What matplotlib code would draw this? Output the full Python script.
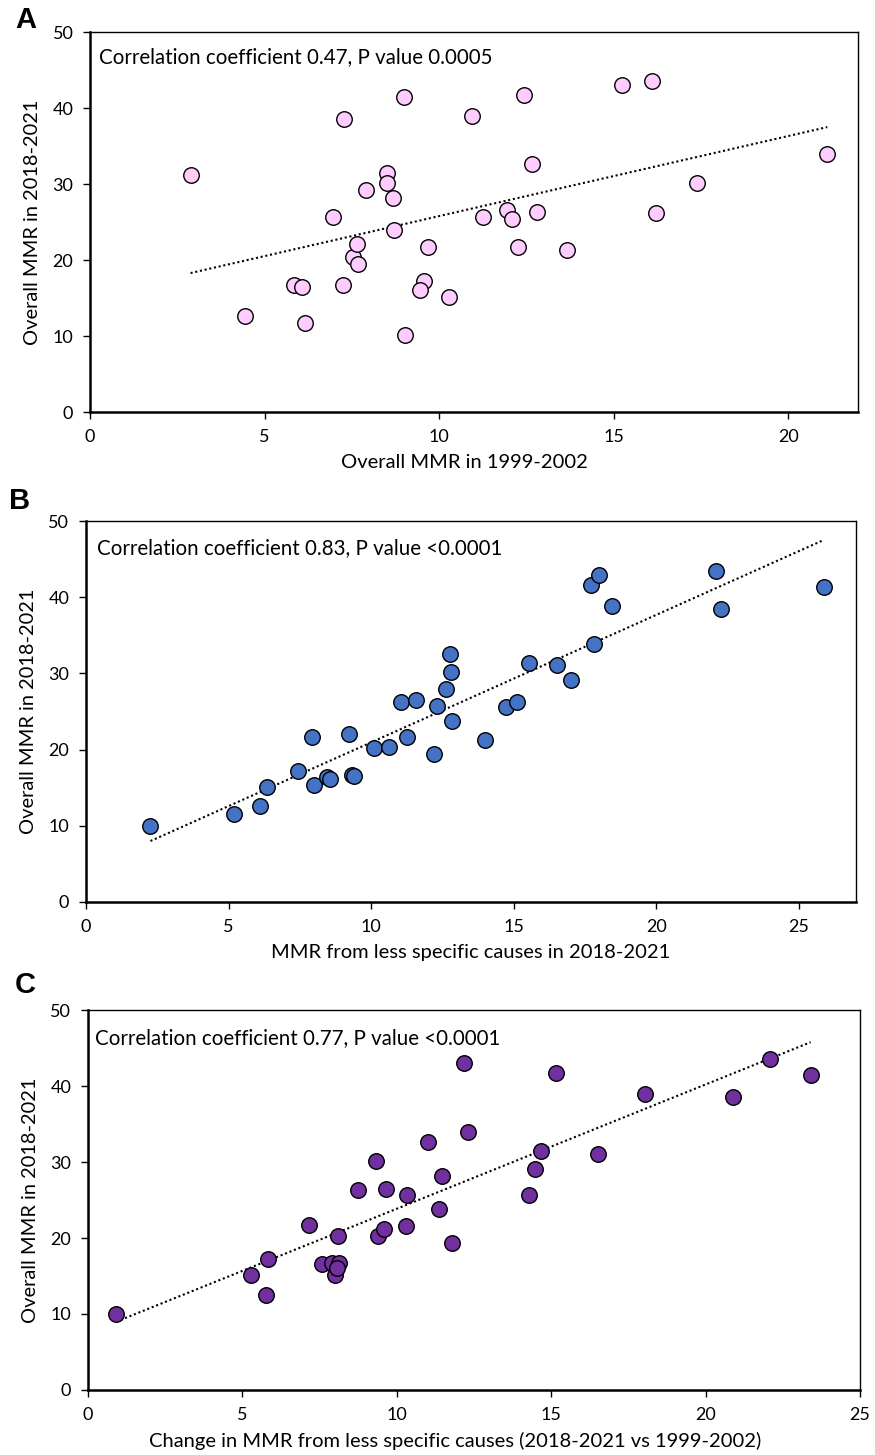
"""Scatter panels: overall MMR 2018-2021 against three predictors."""

import matplotlib

matplotlib.use("Agg")
import matplotlib.pyplot as plt
import numpy as np

# Panel A: overall MMR 1999-2002 vs overall MMR 2018-2021
A_X = [2.88, 4.44, 5.85, 6.06, 6.17, 6.95, 7.28, 7.24, 7.53, 7.64, 7.69, 7.90,
       8.52, 8.52, 8.68, 8.71, 9.00, 9.03, 9.57, 9.46, 9.67, 10.27, 10.94, 11.25,
       11.94, 12.08, 12.27, 12.44, 12.66, 12.80, 13.65, 15.24, 16.09, 16.21, 17.40, 21.12]
A_Y = [31.2, 12.7, 16.7, 16.4, 11.7, 25.7, 38.5, 16.7, 20.4, 22.1, 19.5, 29.2,
       31.5, 30.2, 28.1, 23.9, 41.4, 10.2, 17.3, 16.1, 21.7, 15.2, 39.0, 25.7,
       26.6, 25.4, 21.7, 41.7, 32.7, 26.3, 21.3, 43.0, 43.5, 26.2, 30.2, 33.9]

# Panel B: MMR from less specific causes 2018-2021
B_X = [2.26, 5.20, 6.09, 6.36, 7.42, 7.93, 8.00, 8.45, 8.55, 9.22, 9.34, 9.40,
       10.09, 10.63, 11.27, 11.04, 11.57, 12.19, 12.30, 12.61, 12.77, 12.81, 12.84, 14.00,
       14.73, 15.12, 15.55, 16.50, 17.01, 17.83, 17.72, 18.00, 18.43, 22.10, 22.28, 25.86]
B_Y = [10.0, 11.5, 12.6, 15.1, 17.2, 21.6, 15.3, 16.4, 16.1, 22.0, 16.6, 16.55,
       20.2, 20.4, 21.6, 26.2, 26.5, 19.4, 25.7, 28.0, 32.6, 30.2, 23.8, 21.2,
       25.6, 26.2, 31.4, 31.1, 29.1, 33.9, 41.6, 42.95, 38.9, 43.5, 38.4, 41.3]

# Panel C: change in MMR from less specific causes
C_X = [0.91, 5.27, 5.77, 5.82, 7.17, 7.58, 7.89, 8.13, 7.99, 8.05, 8.11, 8.73,
       9.32, 9.40, 9.58, 9.66, 10.33, 10.31, 11.00, 11.38, 11.45, 11.80, 12.16, 12.31,
       14.29, 14.47, 14.67, 15.17, 16.50, 18.05, 20.89, 22.08, 23.40]
C_Y = [10.0, 15.1, 12.5, 17.2, 21.7, 16.6, 16.7, 16.75, 15.1, 16.0, 20.2, 26.3,
       30.2, 20.3, 21.2, 26.5, 25.7, 21.6, 32.6, 23.8, 28.1, 19.4, 43.0, 33.9,
       25.7, 29.1, 31.4, 41.7, 31.1, 39.0, 38.5, 43.6, 41.4]

Y_LABEL = "Overall MMR in 2018-2021"
PANELS = [
    ("A", A_X, A_Y, "#FFCCFF", 22, "Overall MMR in 1999-2002",
     "Correlation coefficient 0.47, P value 0.0005"),
    ("B", B_X, B_Y, "#4472C4", 27, "MMR from less specific causes in 2018-2021",
     "Correlation coefficient 0.83, P value <0.0001"),
    ("C", C_X, C_Y, "#7030A0", 25, "Change in MMR from less specific causes (2018-2021 vs 1999-2002)",
     "Correlation coefficient 0.77, P value <0.0001"),
]

# axes boxes in figure fractions [left, bottom, width, height]
BOXES = [
    [0.1029, 0.7168, 0.8777, 0.2612],
    [0.0983, 0.3801, 0.8800, 0.2618],
    [0.1006, 0.0447, 0.8823, 0.2611],
]
TEXT_POS = [(0.012, 0.934), (0.014, 0.929), (0.009, 0.926)]
XLABEL_X = [0.488, 0.5, 0.475]
LETTER_POS = [(0.029, 0.986), (0.022, 0.656), (0.029, 0.323)]

plt.rcParams["font.family"] = ["Lato", "DejaVu Sans"]


def draw_panel(fig, box, panel, text_pos, xlabel_x, letter_pos):
    letter, xs, ys, color, xmax, xlabel, note = panel
    ax = fig.add_axes(box)
    xs = np.array(xs)
    ys = np.array(ys)

    ax.scatter(xs, ys, s=125, color=color, edgecolor="black", linewidth=1.0, zorder=3)

    # linear trend line over the data range
    slope, intercept = np.polyfit(xs, ys, 1)
    xx = np.array([xs.min(), xs.max()])
    ax.plot(xx, slope * xx + intercept, color="black", linestyle=(0, (1, 1.3)),
            linewidth=1.5, zorder=2)

    ax.set_xlim(0, xmax)
    ax.set_ylim(0, 50)
    ax.set_xticks(np.arange(0, xmax + 0.1, 5))
    ax.set_yticks(np.arange(0, 51, 10))
    ax.tick_params(direction="out", length=5, width=1, labelsize=13, pad=7)
    for side in ("top", "right"):
        ax.spines[side].set_linewidth(1.0)
    for side in ("left", "bottom"):
        ax.spines[side].set_linewidth(1.8)

    ax.set_xlabel(xlabel, fontsize=14.5, labelpad=5)
    ax.xaxis.set_label_coords(xlabel_x, -0.11)
    ax.set_ylabel(Y_LABEL, fontsize=14.4, labelpad=8)
    ax.text(text_pos[0], text_pos[1], note, transform=ax.transAxes,
            fontsize=14.8, va="center", ha="left")
    fig.text(letter_pos[0], letter_pos[1], letter, fontsize=21, fontweight="bold",
             family="Liberation Sans", ha="center", va="center")
    return ax


def main():
    fig = plt.figure(figsize=(8.75, 14.55), dpi=100)
    for box, panel, tp, xl, lp in zip(BOXES, PANELS, TEXT_POS, XLABEL_X, LETTER_POS):
        draw_panel(fig, box, panel, tp, xl, lp)
    fig.savefig("out.png", dpi=100)
    plt.close(fig)


if __name__ == "__main__":
    main()
